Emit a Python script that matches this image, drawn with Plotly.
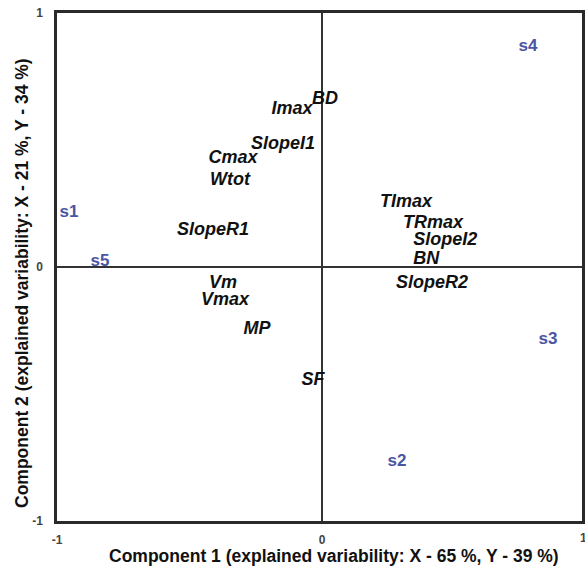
import plotly.graph_objects as go

# Variables (black, bold italic)
var_labels = ["BD", "Imax", "SlopeI1", "Cmax", "Wtot", "SlopeR1", "Vm", "Vmax", "MP", "SF",
              "TImax", "TRmax", "SlopeI2", "BN", "SlopeR2"]
var_x = [0.011, -0.113, -0.147, -0.336, -0.347, -0.411, -0.374, -0.366, -0.245, -0.034,
         0.317, 0.419, 0.465, 0.393, 0.415]
var_y = [0.66, 0.622, 0.484, 0.429, 0.339, 0.142, -0.063, -0.13, -0.248, -0.445,
         0.252, 0.173, 0.106, 0.031, -0.063]

# Observations (blue, bold)
obs_labels = ["s1", "s2", "s3", "s4", "s5"]
obs_x = [-0.955, 0.283, 0.853, 0.777, -0.838]
obs_y = [0.213, -0.768, -0.287, 0.866, 0.02]

tick_vals = [-1, 0, 1]
tick_text = ["-1", "0", "1"]

x_title = "Component 1 (explained variability: X - 65 %, Y - 39 %)"
y_title = "Component 2 (explained variability: X - 21 %, Y - 34 %)"

FONT = "Liberation Sans, Arial, Helvetica, sans-serif"
TICKFONT = dict(family=FONT, size=12, color="#444444", weight="bold")
TITLEFONT = dict(family=FONT, size=17.5, color="#111111", weight="bold")

fig = go.Figure()
fig.add_trace(go.Scatter(
    x=var_x, y=var_y, text=var_labels, mode="text", textposition="middle center",
    textfont=dict(family=FONT, size=18, color="#111111", weight="bold", style="italic"),
    cliponaxis=False, hoverinfo="skip", showlegend=False))
fig.add_trace(go.Scatter(
    x=obs_x, y=obs_y, text=obs_labels, mode="text", textposition="middle center",
    textfont=dict(family=FONT, size=17, color="#4a55a3", weight="bold"),
    cliponaxis=False, hoverinfo="skip", showlegend=False))

axis_common = dict(
    showgrid=False, zeroline=True, zerolinecolor="#333333", zerolinewidth=1.5,
    showline=True, mirror=True, linecolor="#2a2a2a", linewidth=2.5,
    ticks="", tickvals=tick_vals, ticktext=tick_text, automargin=False,
    tickfont=TICKFONT,
)

fig.update_xaxes(range=[-1, 0.981], ticklabelstandoff=6, **axis_common)
fig.update_yaxes(range=[-1, 1], ticklabelstandoff=9, **axis_common)

fig.update_layout(
    width=585, height=567,
    margin=dict(l=57, r=3, t=13, b=46, autoexpand=False),
    paper_bgcolor="white", plot_bgcolor="white",
    annotations=[
        dict(x=(334 - 57) / 525, y=-(556 - 521) / 508, xref="paper", yref="paper",
             text=x_title, showarrow=False, xanchor="center", yanchor="middle",
             font=TITLEFONT),
        dict(x=-(57 - 22) / 525, y=(521 - 283) / 508, xref="paper", yref="paper",
             text=y_title, showarrow=False, textangle=-90, xanchor="center", yanchor="middle",
             font=TITLEFONT),
        dict(x=1, y=0, xref="paper", yref="paper", text=tick_text[-1], showarrow=False,
             xanchor="center", yanchor="middle", yshift=-17, xshift=1,
             font=TICKFONT),
    ],
)

fig.write_html(
    "out.html",
    config={"displayModeBar": False},
    post_script="document.body.style.margin='0';document.body.style.overflow='hidden';",
)
